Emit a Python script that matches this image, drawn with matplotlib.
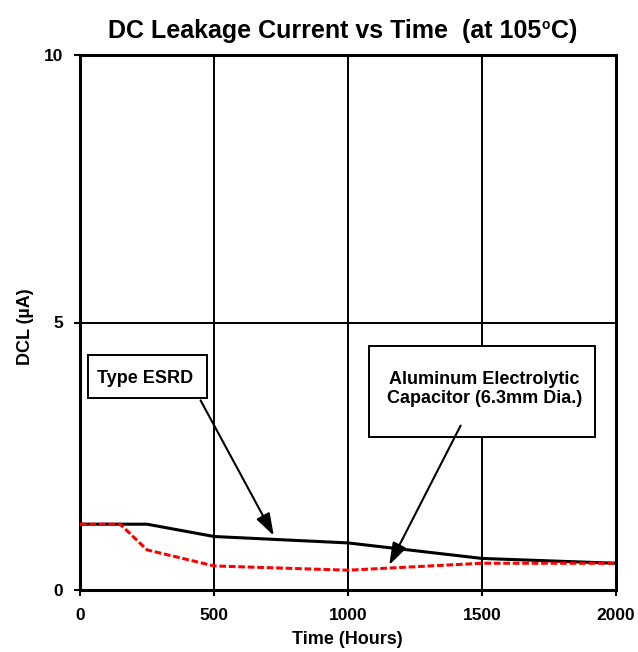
import matplotlib.pyplot as plt
from matplotlib.patches import Rectangle

plt.rcParams['font.family'] = ['Liberation Sans', 'DejaVu Sans']
plt.rcParams['font.weight'] = 'bold'

# data
esrd_hours = [0, 250, 500, 1000, 1500, 2000]
esrd_dcl = [1.23, 1.23, 1.0, 0.88, 0.59, 0.5]
alu_hours = [0, 150, 250, 500, 1000, 1500, 2000]
alu_dcl = [1.23, 1.23, 0.75, 0.45, 0.37, 0.5, 0.5]

x_ticks = [0, 500, 1000, 1500, 2000]
y_ticks = [0, 5, 10]

W, H = 638, 652
fig = plt.figure(figsize=(W / 100, H / 100), dpi=100)
ax = fig.add_axes([80 / W, 1 - 590 / H, 536 / W, 535 / H])

ax.plot(esrd_hours, esrd_dcl, color='black', lw=2.2, zorder=3)
ax.plot(alu_hours, alu_dcl, color='#ff0000', lw=2.2, dashes=(2.2, 0.9), zorder=4)

ax.set_xlim(0, 2000)
ax.set_ylim(0, 10)
ax.set_xticks(x_ticks)
ax.set_yticks(y_ticks)
ax.tick_params(direction='out', length=4, width=1.5, labelsize=12.5)
ax.tick_params(axis='x', pad=9)
ax.tick_params(axis='y', pad=8)
for lab in ax.get_xticklabels() + ax.get_yticklabels():
    lab.set_fontweight('bold')
ax.grid(True, color='black', lw=1.4)
for s in ax.spines.values():
    s.set_linewidth(2.2)

# title, with a small raised "o" for the degree sign
t = fig.text(108 / W, 1 - 38 / H, 'DC Leakage Current vs Time  (at 105',
             fontsize=18, fontweight='bold', ha='left', va='baseline')
fig.canvas.draw()
x_end = t.get_window_extent().x1
o = fig.text((x_end + 0.5) / W, 1 - 29 / H, 'o', fontsize=10, fontweight='bold',
             ha='left', va='baseline')
fig.canvas.draw()
fig.text((o.get_window_extent().x1 + 0.5) / W, 1 - 38 / H, 'C)', fontsize=18,
         fontweight='bold', ha='left', va='baseline')

fig.text(347 / W, 1 - 644 / H, 'Time (Hours)', fontsize=13, fontweight='bold',
         ha='center', va='baseline')
fig.text(25 / W, 1 - 327 / H, 'DCL (\u00b5A)', fontsize=13, fontweight='bold',
         ha='center', va='center', rotation=90)

# annotation boxes
ax.add_patch(Rectangle((30, 3.59), 444, 0.8, fill=True, facecolor='white',
                       edgecolor='black', lw=1.4, zorder=5))
ax.text(65, 3.96, 'Type ESRD', fontsize=13, fontweight='bold',
        va='center', ha='left', zorder=6)
ax.annotate('', xy=(728, 0.97), xytext=(445, 3.59),
            arrowprops=dict(arrowstyle='-|>,head_length=0.9,head_width=0.3',
                            mutation_scale=15, color='black', lw=1.5),
            zorder=6)

ax.add_patch(Rectangle((1079, 2.86), 843, 1.71, fill=True, facecolor='white',
                       edgecolor='black', lw=1.4, zorder=5))
ax.text(1510, 3.76, 'Aluminum Electrolytic\nCapacitor (6.3mm Dia.)', fontsize=13,
        fontweight='bold', va='center', ha='center', linespacing=1.12, zorder=6)
ax.annotate('', xy=(1149, 0.42), xytext=(1425, 3.12),
            arrowprops=dict(arrowstyle='-|>,head_length=0.9,head_width=0.3',
                            mutation_scale=15, color='black', lw=1.5),
            zorder=6)

fig.savefig('out.png', dpi=100)
